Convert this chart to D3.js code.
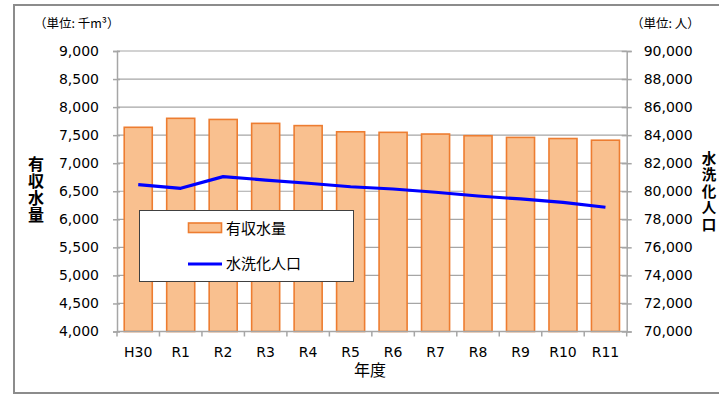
<!DOCTYPE html>
<html>
<head>
<meta charset="utf-8">
<script src="https://cdn.jsdelivr.net/npm/d3@7"></script>
<style>
  html, body { margin: 0; padding: 0; background: #fff; }
  svg { display: block; }
  text { font-family: "DejaVu Sans", sans-serif; fill: #000; }
  .cjk { font-family: "Noto Sans CJK JP", sans-serif; }
  .vtitle { writing-mode: vertical-rl; text-orientation: upright; }
</style>
</head>
<body>
<svg id="chart" width="719" height="396"></svg>
<script>
// 年度
const years = ["H30", "R1", "R2", "R3", "R4", "R5", "R6", "R7", "R8", "R9", "R10", "R11"];
// 有収水量 (千m³)
const revenueWater = [7640, 7800, 7780, 7710, 7670, 7560, 7550, 7520, 7490, 7460, 7440, 7410];
// 水洗化人口 (人)
const sewerPopulation = [80470, 80210, 81040, 80800, 80570, 80320, 80160, 79930, 79660, 79450, 79210, 78860];
// 軸目盛
const leftTicks = [4000, 4500, 5000, 5500, 6000, 6500, 7000, 7500, 8000, 8500, 9000];
const rightTicks = [70000, 72000, 74000, 76000, 78000, 80000, 82000, 84000, 86000, 88000, 90000];

const svg = d3.select("#chart");
const plot = { left: 117, right: 626.7, top: 51, bottom: 331.5 };
const gridColor = "#a6a6a6";
const fmt = d3.format(",");

// outer frame
svg.append("rect")
  .attr("x", 14).attr("y", 5).attr("width", 712).attr("height", 388)
  .attr("fill", "none").attr("stroke", "#8c8c8c").attr("stroke-width", 2);

const x = d3.scaleBand().domain(years).range([plot.left, plot.right])
  .paddingInner(0.34).paddingOuter(0.17);
const yL = d3.scaleLinear().domain([4000, 9000]).range([plot.bottom, plot.top]);
const yR = d3.scaleLinear().domain([70000, 90000]).range([plot.bottom, plot.top]);

// horizontal gridlines
svg.append("g").selectAll("line").data(leftTicks).join("line")
  .attr("x1", plot.left).attr("x2", plot.right)
  .attr("y1", d => yL(d)).attr("y2", d => yL(d))
  .attr("stroke", gridColor).attr("stroke-width", 1.2);

// left axis
const axL = svg.append("g").attr("transform", `translate(${plot.left},0)`)
  .call(d3.axisLeft(yL).tickValues(leftTicks).tickFormat(fmt).tickSize(4).tickPadding(14));
// right axis
const axR = svg.append("g").attr("transform", `translate(${plot.right},0)`)
  .call(d3.axisRight(yR).tickValues(rightTicks).tickFormat(fmt).tickSize(5).tickPadding(12));
[axL, axR].forEach(ax => {
  ax.select(".domain").attr("stroke", gridColor).attr("stroke-width", 1.5);
  ax.selectAll(".tick line").attr("stroke", gridColor).attr("stroke-width", 1.5);
  ax.selectAll(".tick text").attr("font-size", 14).attr("font-family", "DejaVu Sans, sans-serif").attr("fill", "#000");
});
axL.selectAll(".tick line").attr("x1", 3);
axR.selectAll(".tick line").attr("x1", -5);

// bars
svg.append("g").selectAll("rect").data(years).join("rect")
  .attr("x", d => x(d)).attr("width", x.bandwidth())
  .attr("y", (d, i) => yL(revenueWater[i]))
  .attr("height", (d, i) => yL(4000) - yL(revenueWater[i]))
  .attr("fill", "#f9c08f").attr("stroke", "#ed7d31").attr("stroke-width", 1.6);

// bottom axis
const step = x.step();
const axB = svg.append("g").attr("transform", `translate(0,${plot.bottom})`);
axB.append("line").attr("x1", plot.left).attr("x2", plot.right)
  .attr("stroke", gridColor).attr("stroke-width", 1.5);
axB.selectAll("line.tk").data(d3.range(years.length + 1)).join("line").attr("class", "tk")
  .attr("x1", i => plot.left + i * step).attr("x2", i => plot.left + i * step)
  .attr("y1", 0).attr("y2", 5).attr("stroke", gridColor).attr("stroke-width", 1.5);
axB.selectAll("text").data(years).join("text")
  .attr("x", d => x(d) + x.bandwidth() / 2).attr("y", 25)
  .attr("text-anchor", "middle").attr("font-size", 14).text(d => d);

// population line
const line = d3.line()
  .x((d, i) => x(years[i]) + x.bandwidth() / 2)
  .y(d => yR(d));
svg.append("path").datum(sewerPopulation)
  .attr("d", line).attr("fill", "none")
  .attr("stroke", "#0000ff").attr("stroke-width", 3.2).attr("stroke-linejoin", "round");

// legend
const lg = svg.append("g");
lg.append("rect").attr("x", 139.5).attr("y", 210.5).attr("width", 214).attr("height", 71)
  .attr("fill", "#fff").attr("stroke", "#404040").attr("stroke-width", 1);
lg.append("rect").attr("x", 188.5).attr("y", 223).attr("width", 33).attr("height", 9.5)
  .attr("fill", "#f9c08f").attr("stroke", "#ed7d31").attr("stroke-width", 1.6);
lg.append("line").attr("x1", 188).attr("x2", 222).attr("y1", 264).attr("y2", 264)
  .attr("stroke", "#0000ff").attr("stroke-width", 3.2);
lg.append("text").attr("class", "cjk").attr("x", 226).attr("y", 229).attr("dy", "0.35em")
  .attr("font-size", 15).attr("fill", "#222").text("有収水量");
lg.append("text").attr("class", "cjk").attr("x", 226).attr("y", 264).attr("dy", "0.35em")
  .attr("font-size", 15).attr("fill", "#222").text("水洗化人口");

// unit labels
svg.append("text").attr("class", "cjk").attr("x", 34).attr("y", 24).attr("dy", "0.35em")
  .attr("font-size", 12.5).text("（単位: 千m³）");
svg.append("text").attr("class", "cjk").attr("x", 631).attr("y", 24).attr("dy", "0.35em")
  .attr("font-size", 12.5).text("（単位: 人）");

// x-axis title
svg.append("text").attr("class", "cjk").attr("x", 370).attr("y", 370).attr("dy", "0.35em")
  .attr("text-anchor", "middle").attr("font-size", 16).text("年度");

// vertical axis titles, one text each, set top-to-bottom
function verticalTitle(label, cx, cy, size, spacing) {
  svg.append("text").attr("class", "cjk vtitle")
    .attr("x", cx).attr("y", cy)
    .attr("text-anchor", "middle")
    .attr("font-size", size).attr("font-weight", "bold")
    .attr("letter-spacing", spacing)
    .text(label);
}
verticalTitle("有収水量", 36, 190, 16, 1);
verticalTitle("水洗化人口", 709, 192, 14.5, 2);
</script>
</body>
</html>
